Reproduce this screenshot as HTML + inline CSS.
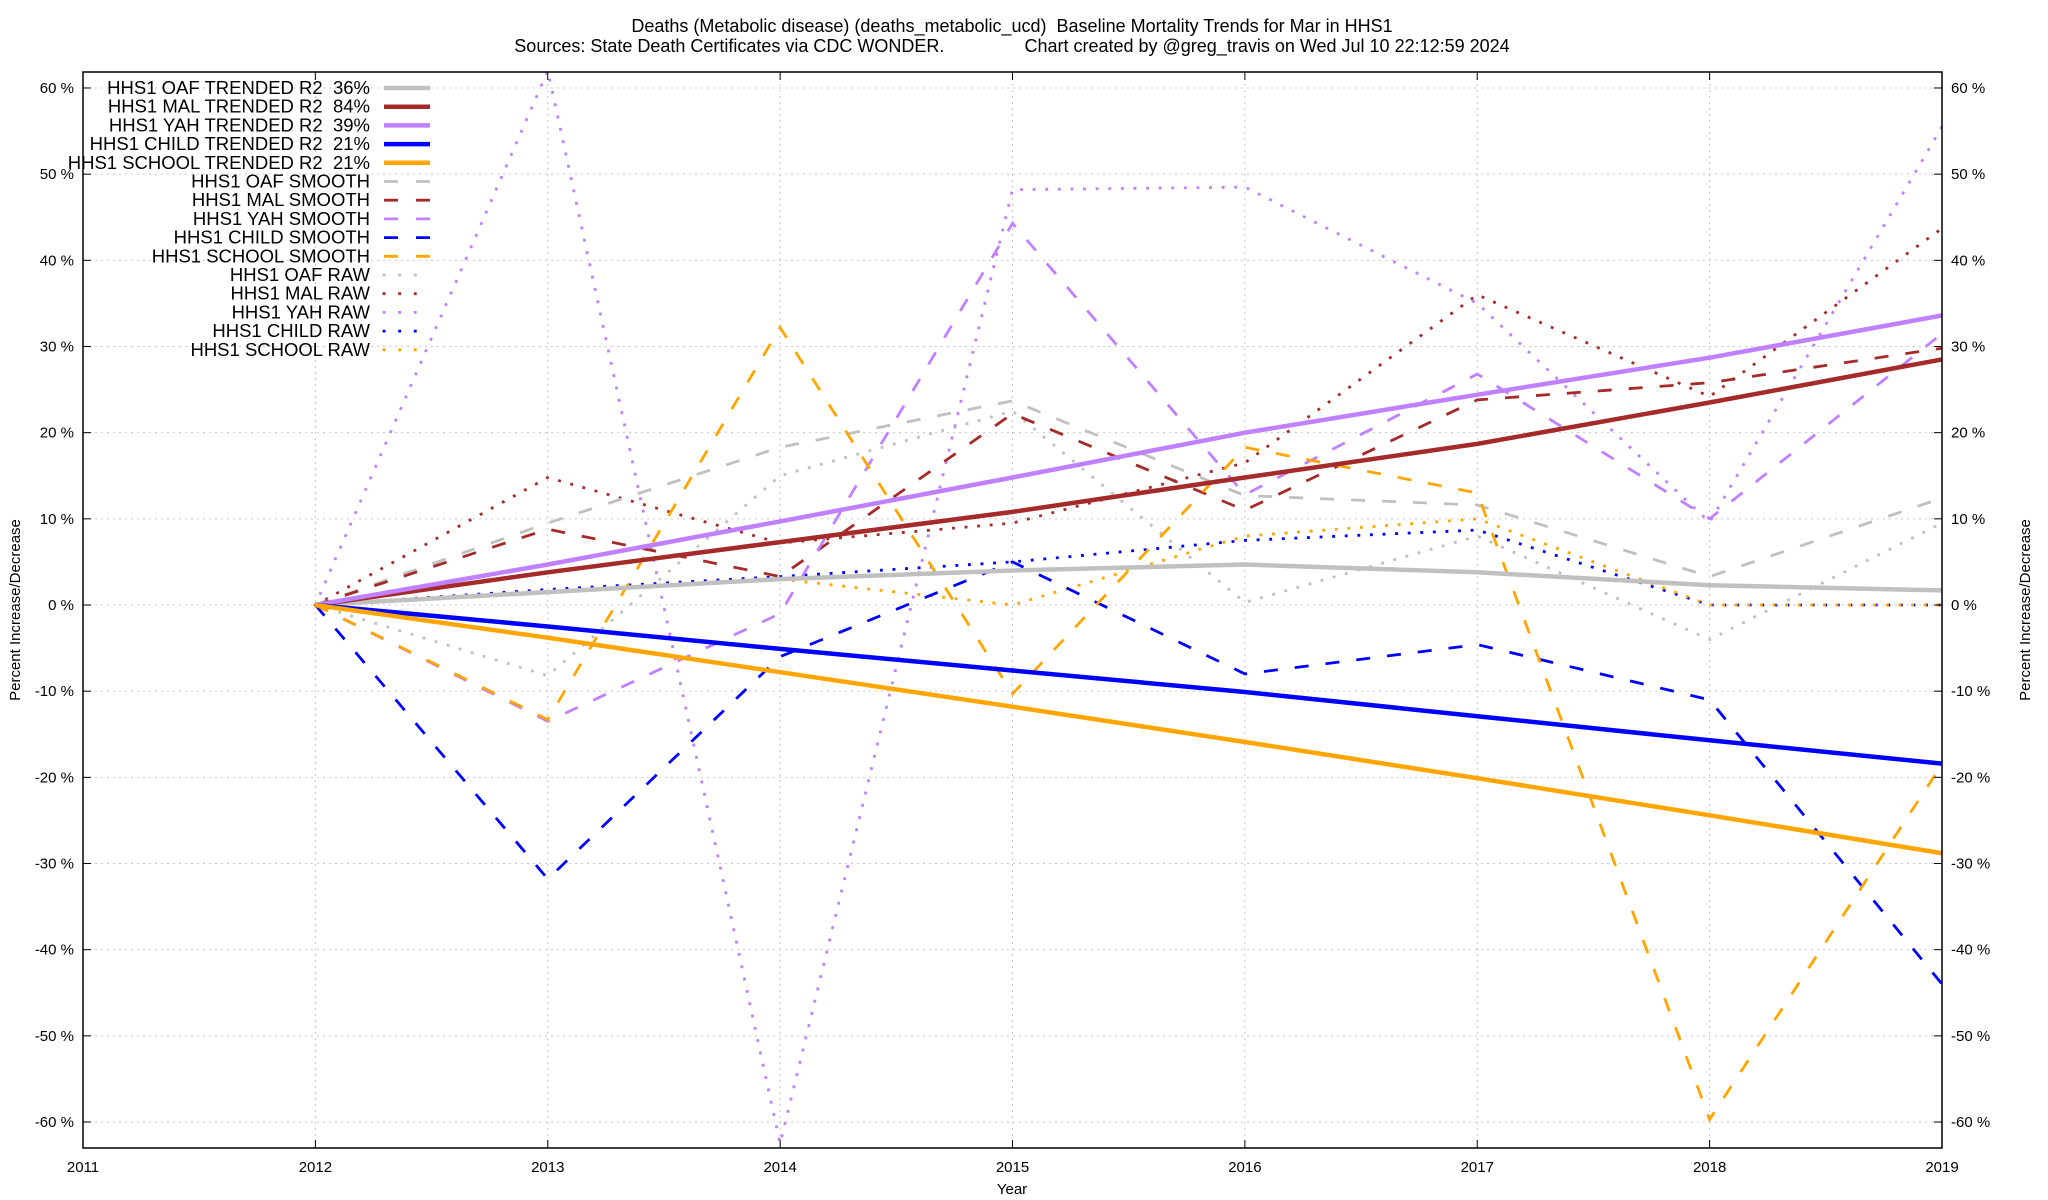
<!DOCTYPE html>
<html><head><meta charset="utf-8">
<style>
html,body{margin:0;padding:0;background:#fff;}
svg{display:block;font-family:"Liberation Sans",Arial,sans-serif;}
</style></head>
<body>
<svg id="chart" width="2048" height="1200" viewBox="0 0 2048 1200" xmlns="http://www.w3.org/2000/svg">
<text x="1012" y="32" font-size="18" text-anchor="middle" xml:space="preserve">Deaths (Metabolic disease) (deaths_metabolic_ucd)  Baseline Mortality Trends for Mar in HHS1</text>
<text x="1012" y="52" font-size="18" text-anchor="middle" xml:space="preserve">Sources: State Death Certificates via CDC WONDER.                Chart created by @greg_travis on Wed Jul 10 22:12:59 2024</text>
<g id="grid"></g>
<g id="series"></g>
<rect x="83" y="72" width="1859" height="1076" fill="none" stroke="#000" stroke-width="1.5"/>
<g id="axes"></g>
<g id="legend"></g>
<text x="1012" y="1194" font-size="15" text-anchor="middle">Year</text>
<text transform="translate(20,610) rotate(-90)" font-size="15" text-anchor="middle">Percent Increase/Decrease</text>
<text transform="translate(2030,610) rotate(-90)" font-size="15" text-anchor="middle">Percent Increase/Decrease</text>
</svg>
<script>
const years = [2012,2013,2014,2015,2016,2017,2018,2019];
const xTicks = [2011,2012,2013,2014,2015,2016,2017,2018,2019];
const yTicks = [-60,-50,-40,-30,-20,-10,0,10,20,30,40,50,60];
const oafTrend = [0,1.5,3,4,4.7,3.8,2.3,1.7];
const malTrend = [0,3.8,7.3,10.8,14.8,18.7,23.5,28.5];
const yahTrend = [0,4.7,9.7,14.8,20,24.4,28.7,33.6];
const childTrend = [0,-2.5,-5.1,-7.6,-10.1,-12.9,-15.7,-18.4];
const schoolTrend = [0,-3.8,-7.8,-11.8,-15.9,-20.1,-24.4,-28.8];
const oafSmooth = [0,9.5,18.3,23.7,12.7,11.6,3.3,12.4];
const malSmooth = [0,8.8,3.3,22.2,11,23.8,25.8,29.8];
const yahSmooth = [0,-13.5,-1,44.3,12.8,26.8,10,31.5];
const childSmooth = [0,-31.8,-6,5,-8,-4.6,-11,-44];
const schoolSmooth = [0,-13.3,32.2,-10.3,18.3,13,-59.7,-18.5];
const oafRaw = [0,-8.2,15,22.5,0.3,8,-4,9.5];
const malRaw = [0,14.8,7.2,9.5,16.5,36,24.2,43.7];
const yahRaw = [0,62,-62.5,48.2,48.5,35,9.6,55.5];
const childRaw = [0,1.8,3.3,5,7.5,8.7,0,0];
const schoolRaw = [0,1.5,3,0,8,10,0,0];

const X0=83, X1=1942, Y0=605, PER10=86.17;
function xs(v){return X0+(v-2011)*(X1-X0)/8;}
function ys(v){return Y0-v*PER10/10;}
const NS="http://www.w3.org/2000/svg";
function mk(tag,attrs,parent){const e=document.createElementNS(NS,tag);for(const k in attrs)e.setAttribute(k,attrs[k]);parent.appendChild(e);return e;}
const grid=document.getElementById('grid'),axes=document.getElementById('axes'),ser=document.getElementById('series'),leg=document.getElementById('legend');

xTicks.forEach(t=>{
  const x=xs(t);
  if(t>2011&&t<2019){const g=mk('line',{x1:x,x2:x,y1:72,y2:1148,stroke:'#c8c8c8','stroke-width':1,'stroke-dasharray':'2 4'},grid);
  
  }
  const tk=mk('line',{x1:x,x2:x,y1:1148,y2:1140,stroke:'#000','stroke-width':1},axes);
  
  
  const tk2=mk('line',{x1:x,x2:x,y1:72,y2:80,stroke:'#000','stroke-width':1},axes);
  
  
  const lb=mk('text',{x:x,y:1172,'font-size':15,'text-anchor':'middle'},axes);lb.textContent=t;
  
  
});
yTicks.forEach(t=>{
  const y=ys(t);
  const g=mk('line',{x1:X0,x2:X1,y1:y,y2:y,stroke:'#c8c8c8','stroke-width':1,'stroke-dasharray':'2 4'},grid);
  
  
  const a=mk('line',{x1:X0,x2:X0+8,y1:y,y2:y,stroke:'#000','stroke-width':1},axes);
  
  
  const b=mk('line',{x1:X1-8,x2:X1,y1:y,y2:y,stroke:'#000','stroke-width':1},axes);
  
  
  const l=mk('text',{x:74,y:y+5,'font-size':15,'text-anchor':'end'},axes);l.textContent=t+' %';
  
  
  const r=mk('text',{x:1951,y:y+5,'font-size':15},axes);r.textContent=t+' %';
  
  
});

const GREY='#c0c0c0',MAL='#a52a2a',YAH='#c080ff',BLUE='#0000ff',ORG='#ffa500';
const styles={trend:{w:4.5,d:null,cap:'butt'},smooth:{w:2.8,d:'14 17',cap:'butt'},raw:{w:2.8,d:'0.1 12.5',cap:'square'}};
const series=[
 ['HHS1 OAF TRENDED R2  36%',oafTrend,GREY,'trend','oaf-trend'],
 ['HHS1 MAL TRENDED R2  84%',malTrend,MAL,'trend','mal-trend'],
 ['HHS1 YAH TRENDED R2  39%',yahTrend,YAH,'trend','yah-trend'],
 ['HHS1 CHILD TRENDED R2  21%',childTrend,BLUE,'trend','child-trend'],
 ['HHS1 SCHOOL TRENDED R2  21%',schoolTrend,ORG,'trend','school-trend'],
 ['HHS1 OAF SMOOTH',oafSmooth,GREY,'smooth','oaf-smooth'],
 ['HHS1 MAL SMOOTH',malSmooth,MAL,'smooth','mal-smooth'],
 ['HHS1 YAH SMOOTH',yahSmooth,YAH,'smooth','yah-smooth'],
 ['HHS1 CHILD SMOOTH',childSmooth,BLUE,'smooth','child-smooth'],
 ['HHS1 SCHOOL SMOOTH',schoolSmooth,ORG,'smooth','school-smooth'],
 ['HHS1 OAF RAW',oafRaw,GREY,'raw','oaf-raw'],
 ['HHS1 MAL RAW',malRaw,MAL,'raw','mal-raw'],
 ['HHS1 YAH RAW',yahRaw,YAH,'raw','yah-raw'],
 ['HHS1 CHILD RAW',childRaw,BLUE,'raw','child-raw'],
 ['HHS1 SCHOOL RAW',schoolRaw,ORG,'raw','school-raw']
];
const clip=mk('clipPath',{id:'pc'},document.getElementById('chart'));
mk('rect',{x:X0,y:72,width:X1-X0,height:1076},clip);
ser.setAttribute('clip-path','url(#pc)');
const order=[10,11,12,13,14,5,6,7,8,9,0,1,2,3,4];
order.forEach(i=>{
  const s=series[i],st=styles[s[3]];
  const pts=years.map((y,j)=>xs(y).toFixed(1)+','+ys(s[1][j]).toFixed(1)).join(' ');
  const p=mk('polyline',{points:pts,fill:'none',stroke:s[2],'stroke-width':st.w,'stroke-linecap':st.cap,'stroke-linejoin':'miter'},ser);
  if(st.d)p.setAttribute('stroke-dasharray',st.d);
  
  
});
series.forEach((s,i)=>{
  const st=styles[s[3]],y=88+i*18.7;
  const t=mk('text',{x:370,y:y+6,'font-size':18.5,'text-anchor':'end'},leg);
  t.setAttributeNS('http://www.w3.org/XML/1998/namespace','xml:space','preserve');
  t.style.whiteSpace='pre';
  t.textContent=s[0];
  
  
  const l=mk('line',{x1:384,x2:430,y1:y,y2:y,stroke:s[2],'stroke-width':st.w,'stroke-linecap':st.cap},leg);
  if(s[3]==='smooth')l.setAttribute('stroke-dasharray','14 18');
  if(s[3]==='raw')l.setAttribute('stroke-dasharray','0.1 15.5');
  
  
});
</script>
</body></html>
